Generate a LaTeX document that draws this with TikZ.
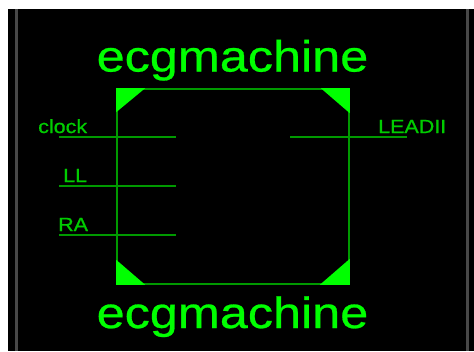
\documentclass[tikz,border=0pt]{standalone}
\usepackage{fontspec}
\setmainfont{Liberation Sans}
\newfontface\titlefont{Liberation Sans}[FakeBold=0.6,FakeStretch=1.15]
\newfontface\pinfont{Liberation Sans}[FakeBold=0.8,FakeStretch=1.13]
\definecolor{brightgreen}{HTML}{00FF00}
\definecolor{labelgreen}{HTML}{00CC00}
\definecolor{wiregreen}{HTML}{009A00}
\definecolor{framegray}{HTML}{484848}
\tikzset{
    title/.style={text=brightgreen, inner sep=0pt, anchor=base, font=\titlefont\fontsize{43.8}{50}\selectfont},
    pinlabel/.style={text=labelgreen, inner sep=0pt, anchor=base west, font=\pinfont\fontsize{19}{21}\selectfont},
    wire/.style={wiregreen, line width=1.6pt},
    corner/.style={fill=brightgreen}
}
\begin{document}
\begin{tikzpicture}[x=1pt,y=-1pt]
    \useasboundingbox (0,0) rectangle (474,351);

    % draw screen
    \fill[white] (0,0) rectangle (474,351);
    \fill[black] (8,9) rectangle (474,351);
    \foreach \x in {16, 467}
    \draw[framegray, line width=3pt] (\x,9) -- (\x,351);

    % draw block
    \node[draw=wiregreen, line width=1.6pt, minimum width=232pt, minimum height=195pt, inner sep=0pt] (block) at (233,186.5) {};

    % draw corners
    \fill[corner] (block.north west) -- ++(29,0) -- ++(-29,24) -- cycle;
    \fill[corner] (block.north east) -- ++(-29,0) -- ++(29,25) -- cycle;
    \fill[corner] (block.south west) -- ++(29,0) -- ++(-29,-25) -- cycle;
    \fill[corner] (block.south east) -- ++(-30,0) -- ++(30,-26) -- cycle;

    % draw names
    \node[title] (topname) at (232.5,71.5) {ecgmachine};
    \node[title] (bottomname) at (232.5,328) {ecgmachine};

    % draw pins
    \coordinate (clockout) at (59,137);
    \coordinate (clockin) at (176,137);
    \coordinate (llout) at (59,186);
    \coordinate (llin) at (176,186);
    \coordinate (raout) at (59,235);
    \coordinate (rain) at (176,235);
    \coordinate (leadin) at (290,137);
    \coordinate (leadout) at (407,137);
    \draw[wire] (clockout) -- (clockin);
    \draw[wire] (llout) -- (llin);
    \draw[wire] (raout) -- (rain);
    \draw[wire] (leadin) -- (leadout);

    % draw pin labels
    \node[pinlabel] (clock) at (38,133) {clock};
    \node[pinlabel] (ll) at (63,182) {LL};
    \node[pinlabel] (ra) at (58,231) {RA};
    \node[pinlabel] (leadii) at (378,133) {LEADII};
\end{tikzpicture}
\end{document}
